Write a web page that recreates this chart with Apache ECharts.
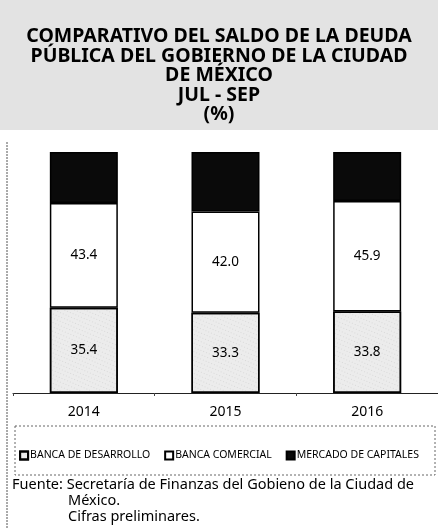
<!DOCTYPE html>
<html>
<head>
<meta charset="utf-8">
<script src="https://cdn.jsdelivr.net/npm/echarts@6/dist/echarts.min.js"></script>
<style>
html, body { margin: 0; padding: 0; background: #fff; }
#chart { width: 438px; height: 529px; }
</style>
</head>
<body>
<div id="chart"></div>
<script>
// datos
var years = ['2014', '2015', '2016'];
var bancaDesarrollo = [35.4, 33.3, 33.8];
var bancaComercial = [43.4, 42.0, 45.9];
var mercadoCapitales = [21.2, 24.7, 20.3];

var titulo = 'COMPARATIVO DEL SALDO DE LA DEUDA\nPÚBLICA DEL GOBIERNO DE LA CIUDAD\nDE MÉXICO\nJUL - SEP\n(%)';

var myChart = echarts.init(document.getElementById('chart'));

var labelStyle = {
    show: true,
    position: 'inside',
    color: '#000',
    fontSize: 13.5,
    fontFamily: 'Noto Sans',
    formatter: function (p) { return p.value.toFixed(1); }
};

var option = {
    backgroundColor: '#fff',
    animation: false,
    title: {
        text: titulo,
        left: 'center',
        top: 22,
        textStyle: {
            fontFamily: 'Noto Sans',
            fontWeight: 'bold',
            fontSize: 19.5,
            lineHeight: 19.5,
            color: '#000'
        }
    },
    legend: {
        data: ['BANCA DE DESARROLLO', 'BANCA COMERCIAL', 'MERCADO DE CAPITALES'],
        top: 445,
        left: 'center',
        itemWidth: 8,
        itemHeight: 8,
        itemGap: 14,
        icon: 'rect',
        textStyle: { fontFamily: 'Noto Sans', fontSize: 10.5, color: '#000', padding: [0, 0, 0, -3] }
    },
    grid: { left: 13, right: 0, top: 152, bottom: 136, containLabel: false },
    xAxis: {
        type: 'category',
        data: years,
        axisLine: { lineStyle: { color: '#222', width: 1 } },
        axisTick: { show: true, length: 3, lineStyle: { color: '#444' } },
        axisLabel: { color: '#000', fontSize: 14, fontFamily: 'Noto Sans', margin: 12 }
    },
    yAxis: {
        type: 'value',
        min: 0,
        max: 100,
        show: false
    },
    graphic: [
        { type: 'rect', shape: { x: 0, y: 0, width: 438, height: 130 }, style: { fill: '#e3e3e3' }, z: -10 },
        { type: 'line', shape: { x1: 7, y1: 142, x2: 7, y2: 529 }, style: { stroke: '#555', lineWidth: 1, lineDash: [2, 1] } },
        { type: 'rect', shape: { x: 15, y: 426, width: 420, height: 49 }, style: { fill: 'none', stroke: '#666', lineWidth: 1, lineDash: [2, 2] } },
        { type: 'text', left: 12, top: 477, style: { text: 'Fuente: Secretaría de Finanzas del Gobieno de la Ciudad de', fontFamily: 'Noto Sans', fontSize: 14.5, fill: '#000' } },
        { type: 'text', left: 68, top: 493, style: { text: 'México.', fontFamily: 'Noto Sans', fontSize: 14.5, fill: '#000' } },
        { type: 'text', left: 68, top: 509, style: { text: 'Cifras preliminares.', fontFamily: 'Noto Sans', fontSize: 14.5, fill: '#000' } }
    ],
    series: [
        {
            name: 'BANCA DE DESARROLLO',
            type: 'bar',
            stack: 'total',
            barWidth: 68,
            data: bancaDesarrollo,
            itemStyle: {
                color: '#ececec',
                borderColor: '#000',
                borderWidth: 1.5,
                decal: { symbol: 'rect', symbolSize: 0.5, color: 'rgba(110,110,110,0.6)', dashArrayX: [1, 2], dashArrayY: [1, 3], rotation: 0.4 }
            },
            label: labelStyle
        },
        {
            name: 'BANCA COMERCIAL',
            type: 'bar',
            stack: 'total',
            data: bancaComercial,
            itemStyle: { color: '#fff', borderColor: '#000', borderWidth: 1.5 },
            label: labelStyle
        },
        {
            name: 'MERCADO DE CAPITALES',
            type: 'bar',
            stack: 'total',
            data: mercadoCapitales,
            itemStyle: { color: '#0a0a0a', borderColor: '#000', borderWidth: 1.5 }
        }
    ]
};

myChart.setOption(option);
</script>
</body>
</html>
